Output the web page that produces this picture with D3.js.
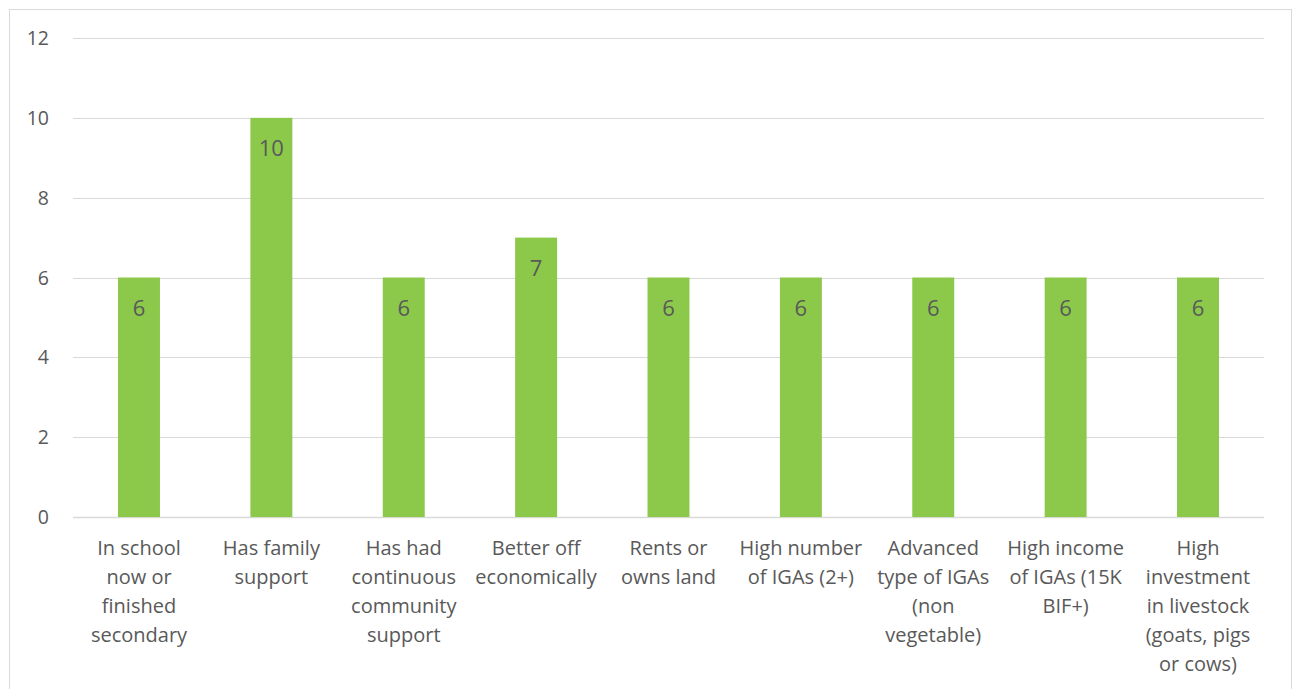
<!DOCTYPE html>
<html>
<head>
<meta charset="utf-8">
<script src="https://cdn.jsdelivr.net/npm/d3@7"></script>
<style>
  body { margin: 0; background: #fff; }
  svg text { font-family: "Open Sans", "Liberation Sans", sans-serif; fill: #595959; }
</style>
</head>
<body>
<svg width="1295" height="689"></svg>
<script>
// Chart data
var categories = [
    'In school\nnow or\nfinished\nsecondary',
    'Has family\nsupport',
    'Has had\ncontinuous\ncommunity\nsupport',
    'Better off\neconomically',
    'Rents or\nowns land',
    'High number\nof IGAs (2+)',
    'Advanced\ntype of IGAs\n(non\nvegetable)',
    'High income\nof IGAs (15K\nBIF+)',
    'High\ninvestment\nin livestock\n(goats, pigs\nor cows)'
];
var values = [6, 10, 6, 7, 6, 6, 6, 6, 6];
var yTicks = [0, 2, 4, 6, 8, 10, 12];

var svg = d3.select('svg');

// Outer chart border
svg.append('rect')
    .attr('x', 9.5).attr('y', 9.5)
    .attr('width', 1282).attr('height', 700)
    .attr('fill', 'none')
    .attr('stroke', '#d9d9d9');

var padding = {t: 38, r: 31, b: 172, l: 73};
var chartWidth = 1295 - padding.l - padding.r;
var chartHeight = 689 - padding.t - padding.b;

var chartG = svg.append('g')
    .attr('transform', 'translate(' + [padding.l, padding.t] + ')');

var xScale = d3.scaleBand()
    .domain(categories)
    .range([0, chartWidth])
    .paddingInner(0.683)
    .paddingOuter(0.34);

var yScale = d3.scaleLinear()
    .domain([0, 12])
    .range([chartHeight, 0]);

// Gridlines
chartG.selectAll('.grid')
    .data(yTicks)
    .enter().append('line')
    .attr('class', 'grid')
    .attr('x1', 0).attr('x2', chartWidth)
    .attr('y1', function(d) { return Math.round(yScale(d)) + 0.5; })
    .attr('y2', function(d) { return Math.round(yScale(d)) + 0.5; })
    .attr('stroke', '#d9d9d9')
    .attr('stroke-width', function(d) { return d === 0 ? 1.5 : 1; });

// Y tick labels
chartG.selectAll('.ylabel')
    .data(yTicks)
    .enter().append('text')
    .attr('class', 'ylabel')
    .attr('x', -24)
    .attr('y', function(d) { return yScale(d); })
    .attr('dy', '0.36em')
    .attr('text-anchor', 'end')
    .style('font-size', '19.5px')
    .text(function(d) { return d; });

// Bars
var bars = chartG.selectAll('.bar')
    .data(categories)
    .enter().append('g')
    .attr('class', 'bar');

bars.append('rect')
    .attr('x', function(d) { return xScale(d); })
    .attr('y', function(d, i) { return yScale(values[i]); })
    .attr('width', xScale.bandwidth())
    .attr('height', function(d, i) { return chartHeight - yScale(values[i]); })
    .attr('fill', '#8cc94a');

// Value labels inside bars
bars.append('text')
    .attr('x', function(d) { return xScale(d) + xScale.bandwidth() / 2; })
    .attr('y', function(d, i) { return yScale(values[i]) + 38.5; })
    .attr('text-anchor', 'middle')
    .style('font-size', '22px')
    .text(function(d, i) { return values[i]; });

// Category labels, wrapped on line breaks
var catLabels = chartG.selectAll('.xlabel')
    .data(categories)
    .enter().append('text')
    .attr('class', 'xlabel')
    .attr('text-anchor', 'middle')
    .style('font-size', '20px')
    .attr('transform', function(d) {
        return 'translate(' + [xScale(d) + xScale.bandwidth() / 2, chartHeight + 38] + ')';
    });

catLabels.selectAll('tspan')
    .data(function(d) { return d.split('\n'); })
    .enter().append('tspan')
    .attr('x', 0)
    .attr('y', function(d, i) { return i * 29; })
    .text(function(d) { return d; });
</script>
</body>
</html>
